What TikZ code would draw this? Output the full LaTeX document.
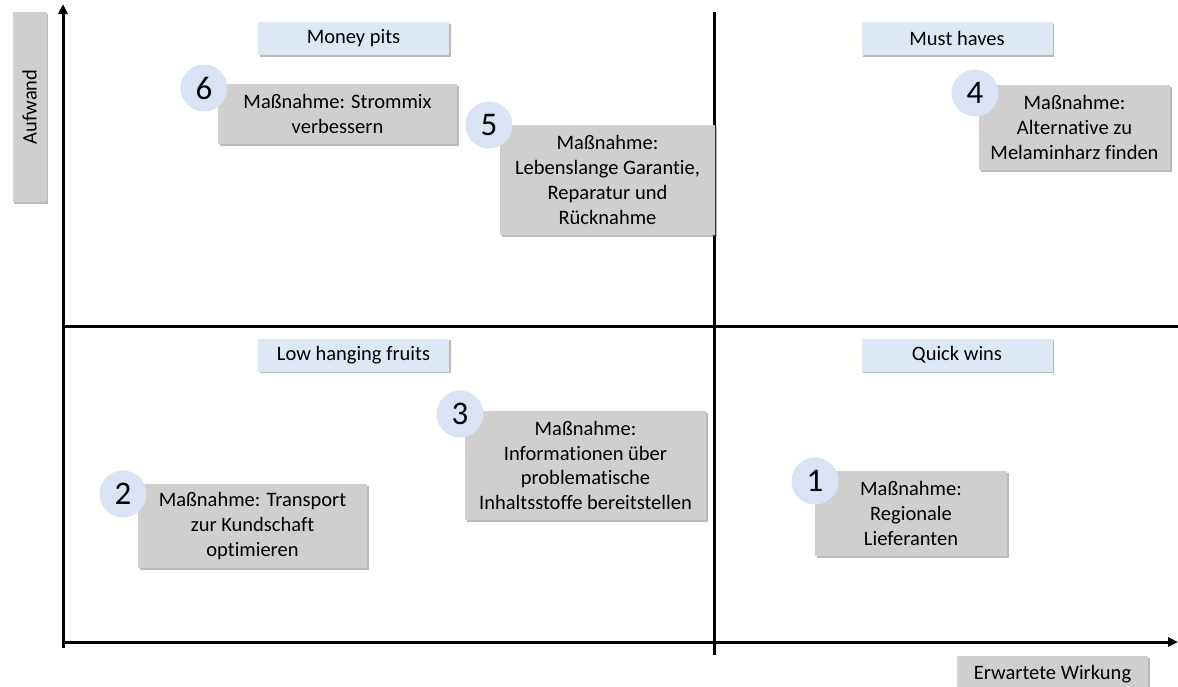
\documentclass[tikz,border=0pt]{standalone}
\usepackage{fontspec}
\setmainfont{Carlito}[Ligatures=NoCommon]
\usetikzlibrary{arrows.meta,shadows}
\definecolor{boxgray}{HTML}{D0CECE}
\definecolor{lblblue}{HTML}{DEE8F4}
\definecolor{circblue}{HTML}{DAE3F3}
\begin{document}
\begin{tikzpicture}[x=1pt,y=-1pt,
  txt/.style={font=\fontsize{20.5}{24.8}\selectfont, align=center, inner sep=0pt},
  shad/.style={drop shadow={shadow xshift=1.5pt, shadow yshift=-1.8pt, opacity=0.45, fill=black!60}},
  mbox/.style={txt, fill=boxgray, shad},
  lbl/.style={txt, fill=lblblue, shad, minimum width=191pt, minimum height=33pt},
  axlbl/.style={txt, fill=boxgray, shad},
  num/.style={circle, fill=circblue, minimum size=47pt, inner sep=0pt, font=\fontsize{33}{33}\selectfont},
  axis/.style={line width=3pt, -{Triangle[length=10pt,width=9pt]}},
  grid/.style={line width=3pt}]
\useasboundingbox (0,0) rectangle (1178,686);
\fill[white] (0,0) rectangle (1178,686);
% axes coordinates
\coordinate (yb) at (63,648);
\coordinate (yt) at (63,4);
\coordinate (xl) at (63,642);
\coordinate (xr) at (1178,642);
\coordinate (mt) at (714,12);
\coordinate (mb) at (714,655);
\coordinate (hl) at (63,326);
\coordinate (hr) at (1178,326);
\draw[grid] (mt) -- (mb);
\draw[grid] (hl) -- (hr);
\draw[axis] (yb) -- (yt);
\draw[axis] (xl) -- (xr);
% axis labels
\node[axlbl, minimum width=34pt, minimum height=190pt] (aufwand) at (29.5,107) {};
\node[txt, rotate=90] at (aufwand.center) {Aufwand};
\node[axlbl, minimum width=191pt, minimum height=40pt, anchor=north west] (wirkung) at (957,656) {};
\node[txt] at (1052.5,674) {Erwartete Wirkung};
% quadrant labels
\node[lbl] (money) at (353.5,38.5) {Money pits};
\node[lbl] (must) at (957,38.5) {Must haves};
\node[lbl] (low) at (353.5,355) {Low hanging fruits};
\node[lbl] (quick) at (957,355) {Quick wins};
% measure boxes
\node[mbox, minimum width=239pt, minimum height=60pt] (b6) at (337.5,114) {Maßnahme: Strommix\\verbessern};
\node[mbox, minimum width=215pt, minimum height=110pt] (b5) at (607.5,180) {Maßnahme:\\Lebenslange Garantie,\\Reparatur und\\Rücknahme};
\node[mbox, minimum width=191pt, minimum height=85pt] (b4) at (1074.5,127.5) {Maßnahme:\\Alternative zu\\Melaminharz finden};
\node[mbox, minimum width=241pt, minimum height=109pt] (b3) at (585.5,465.5) {Maßnahme:\\Informationen über\\problematische\\Inhaltsstoffe bereitstellen};
\node[mbox, minimum width=229pt, minimum height=84pt] (b2) at (252.5,526) {Maßnahme: Transport\\zur Kundschaft\\optimieren};
\node[mbox, minimum width=192pt, minimum height=85pt] (b1) at (911,513.5) {Maßnahme:\\Regionale\\Lieferanten};
% number circles
\node[num] (n6) at (204,88) {6};
\node[num] (n5) at (489,125) {5};
\node[num] (n4) at (975,93) {4};
\node[num] (n3) at (460,414) {3};
\node[num] (n2) at (123,494) {2};
\node[num] (n1) at (815,481) {1};
\end{tikzpicture}
\end{document}
